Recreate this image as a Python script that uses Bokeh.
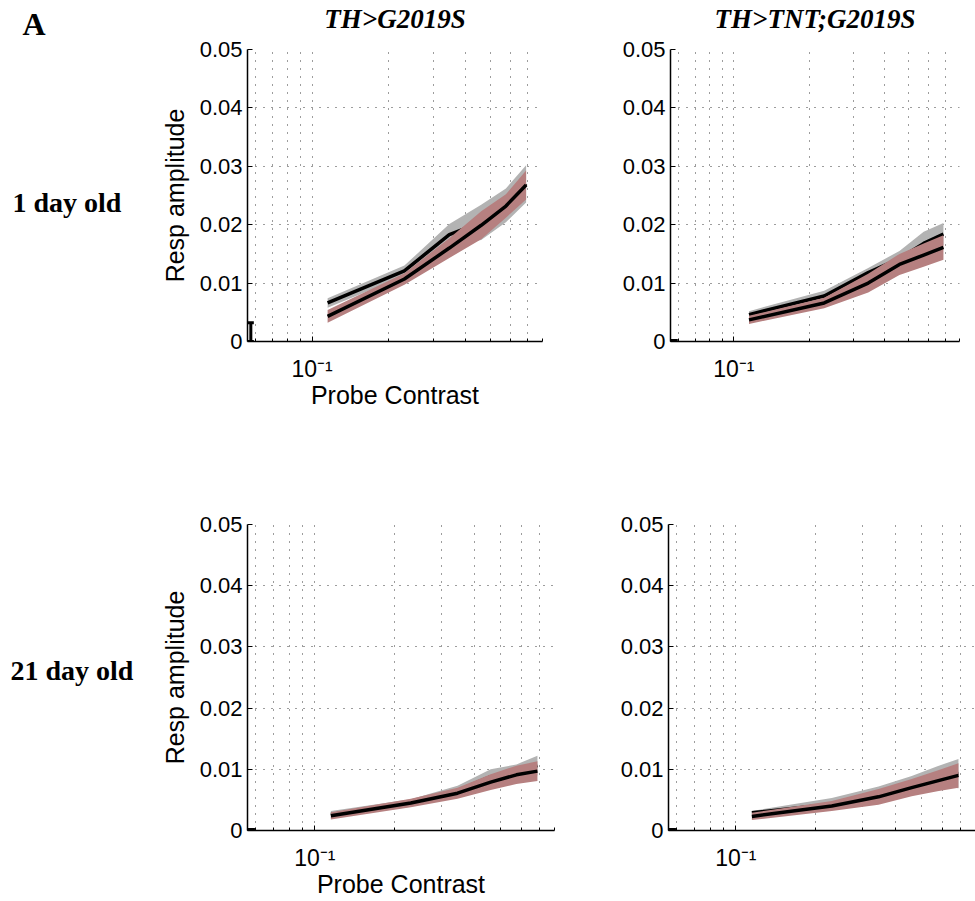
from bokeh.plotting import figure
from bokeh.layouts import row, column
from bokeh.models import (Range1d, FixedTicker, NumeralTickFormatter, Whisker, TeeHead,
                          ColumnDataSource)
from bokeh.core.properties import value
from bokeh.embed import file_html
from bokeh.resources import INLINE

# ---------------- data ----------------
contrast = [0.115, 0.23, 0.345, 0.46, 0.575, 0.69]
y_ticks = [0, 0.01, 0.02, 0.03, 0.04, 0.05]
x_major = [0.1]
x_minor = [0.06, 0.07, 0.08, 0.09, 0.2, 0.3, 0.4, 0.5, 0.6, 0.7, 0.8]
x_tick_labels = {0.1: "10\u207b\u00b9"}

col_titles = ["TH>G2019S", "TH>TNT;G2019S"]
row_titles = ["1 day old", "21 day old"]
panel_letter = "A"

# 1 day old, TH>G2019S
tl_gray_mean = [0.0066, 0.0121, 0.0183, 0.0204, 0.0233, 0.0270]
tl_gray_sem = [0.0008, 0.0009, 0.0018, 0.0030, 0.0029, 0.0032]
tl_red_mean = [0.0043, 0.0107, 0.0160, 0.0199, 0.0232, 0.0268]
tl_red_sem = [0.0011, 0.0010, 0.0017, 0.0024, 0.0020, 0.0025]
# 1 day old, TH>TNT;G2019S
tr_gray_mean = [0.0046, 0.0078, 0.0118, 0.0142, 0.0168, 0.0184]
tr_gray_sem = [0.0006, 0.0009, 0.0008, 0.0013, 0.0020, 0.0019]
tr_red_mean = [0.0037, 0.0066, 0.0100, 0.0132, 0.0148, 0.0161]
tr_red_sem = [0.0007, 0.0009, 0.0016, 0.0018, 0.0020, 0.0021]
# 21 day old, TH>G2019S
bl_gray_mean = [0.0026, 0.0045, 0.0065, 0.0088, 0.0097, 0.0106]
bl_gray_sem = [0.0006, 0.0006, 0.0008, 0.0012, 0.0011, 0.0016]
bl_red_mean = [0.0024, 0.0045, 0.0061, 0.0079, 0.0091, 0.0097]
bl_red_sem = [0.0006, 0.0007, 0.0009, 0.0013, 0.0015, 0.0016]
# 21 day old, TH>TNT;G2019S
br_gray_mean = [0.0029, 0.0043, 0.0061, 0.0078, 0.0089, 0.0093]
br_gray_sem = [0.0003, 0.0010, 0.0011, 0.0011, 0.0016, 0.0024]
br_red_mean = [0.0023, 0.0040, 0.0055, 0.0070, 0.0081, 0.0090]
br_red_sem = [0.0006, 0.0008, 0.0013, 0.0014, 0.0017, 0.0020]

# zero-contrast response (drawn at the left edge of the log axis)
baseline_contrast = 0.0575
baseline_mean = [0.0016, 0.0, 0.0, 0.0]
baseline_sem = [0.0016, 0.00015, 0.00015, 0.00015]

GRAY = "#b3b3b3"
RED = "#b68080"
SANS = "Liberation Sans"
SERIF = "Liberation Serif"
XMIN = 0.0558


def make_panel(width, height, borders, gm, gs, rm, rs, bmean, bsem, cap=8,
               xmax=0.8, xlabel=None, ylabel=None):
    left, right, top, bottom = borders
    p = figure(width=width, height=height, x_axis_type="log",
               x_range=Range1d(XMIN, xmax), y_range=Range1d(0, 0.05),
               output_backend="svg", toolbar_location=None, title=None,
               min_border_left=left, min_border_right=right,
               min_border_top=top, min_border_bottom=bottom)
    p.outline_line_color = None
    p.background_fill_color = "white"
    p.border_fill_color = "white"

    g_lo = [m - s for m, s in zip(gm, gs)]
    g_hi = [m + s for m, s in zip(gm, gs)]
    r_lo = [m - s for m, s in zip(rm, rs)]
    r_hi = [m + s for m, s in zip(rm, rs)]
    p.varea(x=contrast, y1=g_lo, y2=g_hi, fill_color=GRAY)
    p.line(contrast, gm, line_color="black", line_width=3.5)
    p.varea(x=contrast, y1=r_lo, y2=r_hi, fill_color=RED)
    p.line(contrast, rm, line_color="black", line_width=3.5)

    src = ColumnDataSource(dict(x=[baseline_contrast], lo=[bmean - bsem], hi=[bmean + bsem]))
    p.add_layout(Whisker(source=src, base="x", lower="lo", upper="hi", dimension="height",
                         line_width=3, line_color="black",
                         lower_head=TeeHead(size=cap, line_width=3, line_color="black"),
                         upper_head=TeeHead(size=cap, line_width=3, line_color="black")))

    # axes
    p.xaxis.ticker = FixedTicker(ticks=x_major, minor_ticks=x_minor)
    p.xaxis.major_label_overrides = x_tick_labels
    p.yaxis.ticker = FixedTicker(ticks=y_ticks, minor_ticks=[])
    p.yaxis.formatter = NumeralTickFormatter(format="0.[00]")
    for ax in (p.xaxis, p.yaxis):
        ax.axis_line_color = "black"
        ax.axis_line_width = 1.5
        ax.major_tick_in = 5
        ax.major_tick_out = 0
        ax.minor_tick_in = 3
        ax.minor_tick_out = 0
        ax.major_tick_line_color = "black"
        ax.minor_tick_line_color = "black"
        ax.major_label_text_font = SANS
        ax.major_label_text_font_size = "22px"
        ax.major_label_text_color = "black"
        ax.axis_label_text_font = SANS
        ax.axis_label_text_font_size = "25px"
        ax.axis_label_text_font_style = "normal"
        ax.axis_label_text_color = "black"
    p.xaxis.major_label_text_font_size = "23px"
    p.xaxis.major_label_standoff = 14
    p.yaxis.major_label_standoff = 5
    p.xaxis.axis_label_standoff = -4
    p.yaxis.axis_label_standoff = 8
    if xlabel:
        p.xaxis.axis_label = xlabel
    if ylabel:
        p.yaxis.axis_label = ylabel

    # dotted grid
    for gr in (p.xgrid, p.ygrid):
        gr.grid_line_color = "#3a3a3a"
        gr.grid_line_dash = "1 7"
        gr.grid_line_width = 1
    p.xgrid.minor_grid_line_color = "#3a3a3a"
    p.xgrid.minor_grid_line_dash = "1 7"
    p.xgrid.minor_grid_line_width = 1
    return p


HEAD = 36
tl = make_panel(424, 498 - HEAD, (99, 30, 13, 157), tl_gray_mean, tl_gray_sem, tl_red_mean, tl_red_sem,
                baseline_mean[0], baseline_sem[0], cap=6,
                xlabel="Probe Contrast", ylabel="Resp amplitude")
tr = make_panel(403, 498 - HEAD, (98, 16, 13, 157), tr_gray_mean, tr_gray_sem, tr_red_mean, tr_red_sem,
                baseline_mean[1], baseline_sem[1])
bl = make_panel(424, 403, (99, 18, 25, 71), bl_gray_mean, bl_gray_sem, bl_red_mean, bl_red_sem,
                baseline_mean[2], baseline_sem[2],
                xlabel="Probe Contrast", ylabel="Resp amplitude")
br = make_panel(403, 403, (96, 0, 26, 70), br_gray_mean, br_gray_sem, br_red_mean, br_red_sem,
                baseline_mean[3], baseline_sem[3])

# column headings
head = figure(width=827, height=HEAD, x_range=Range1d(0, 827), y_range=Range1d(HEAD, 0),
              output_backend="svg", toolbar_location=None, min_border=0, title=None)
head.axis.visible = False
head.grid.visible = False
head.outline_line_color = None
head.text(x=[246.5, 666.5], y=[18, 18], text=col_titles, text_font=value(SERIF),
          text_font_style="bold italic", text_font_size="27px", text_align="center",
          text_baseline="alphabetic", text_color="black")

# left-hand labels
lab = figure(width=148, height=901, x_range=Range1d(0, 148), y_range=Range1d(901, 0),
             output_backend="svg", toolbar_location=None, min_border=0, title=None)
lab.axis.visible = False
lab.grid.visible = False
lab.outline_line_color = None
lab.text(x=[22], y=[23], text=[panel_letter], text_font=value(SERIF), text_font_style="bold",
         text_font_size="32px", text_baseline="alphabetic", text_color="black")
lab.text(x=[12, 10], y=[202, 670], text=row_titles, text_font=value(SERIF), text_font_style="bold",
         text_font_size="28px", text_baseline="alphabetic", text_color="black")

layout = row(lab, column(head, row(tl, tr), row(bl, br)))
open("out.html", "w").write(file_html(layout, INLINE))
